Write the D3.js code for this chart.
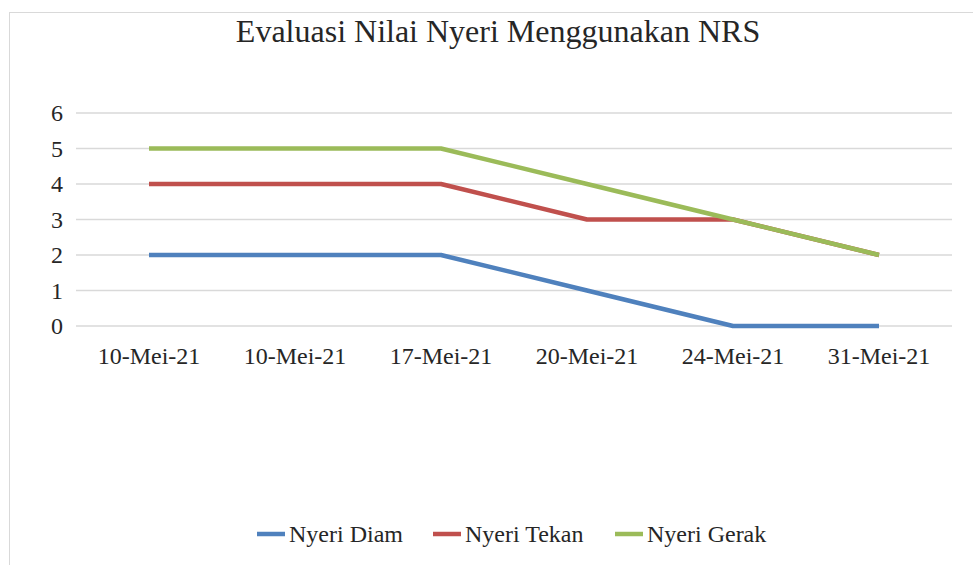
<!DOCTYPE html>
<html>
<head>
<meta charset="utf-8">
<script src="https://cdn.jsdelivr.net/npm/d3@7"></script>
<style>
  body { margin: 0; background: #fff; }
</style>
</head>
<body>
<div id="app"></div>
<script>
const WIDTH = 973;
const HEIGHT = 565;
const FONT = 'Liberation Serif';

const title = 'Evaluasi Nilai Nyeri Menggunakan NRS';
const dates = ['10-Mei-21', '10-Mei-21 ', '17-Mei-21', '20-Mei-21', '24-Mei-21', '31-Mei-21'];
const yTicks = [0, 1, 2, 3, 4, 5, 6];

const nyeriDiam = [2, 2, 2, 1, 0, 0];
const nyeriTekan = [4, 4, 4, 3, 3, 2];
const nyeriGerak = [5, 5, 5, 4, 3, 2];

const seriesNames = ['Nyeri Diam', 'Nyeri Tekan', 'Nyeri Gerak'];
const seriesColors = ['#4f81bd', '#c0504d', '#9bbb59'];

const series = [nyeriDiam, nyeriTekan, nyeriGerak].map((values, i) => ({
  name: seriesNames[i],
  color: seriesColors[i],
  values
}));

const svg = d3.select('#app')
  .append('svg')
  .attr('width', WIDTH)
  .attr('height', HEIGHT);

// chart frame (the outer border of the chart object)
svg.append('rect')
  .attr('x', 9.5)
  .attr('y', 12.5)
  .attr('width', WIDTH)
  .attr('height', HEIGHT)
  .attr('fill', 'none')
  .attr('stroke', '#d9d9d9');

svg.append('text')
  .attr('x', 498)
  .attr('y', 42)
  .attr('text-anchor', 'middle')
  .attr('font-family', FONT)
  .attr('font-size', '32px')
  .attr('fill', '#262626')
  .text(title);

const x = d3.scalePoint()
  .domain(dates)
  .range([76, 952])
  .padding(0.5);

const y = d3.scaleLinear()
  .domain([0, 6])
  .range([326, 113]);

// gridlines
svg.append('g')
  .selectAll('line')
  .data(yTicks)
  .enter()
  .append('line')
  .attr('x1', 76)
  .attr('x2', 952)
  .attr('y1', d => y(d))
  .attr('y2', d => y(d))
  .attr('stroke', '#d9d9d9')
  .attr('stroke-width', 1.5);

// y labels
svg.append('g')
  .selectAll('text')
  .data(yTicks)
  .enter()
  .append('text')
  .attr('x', 63)
  .attr('y', d => y(d))
  .attr('dy', '0.34em')
  .attr('text-anchor', 'end')
  .attr('font-family', FONT)
  .attr('font-size', '24px')
  .attr('fill', '#262626')
  .text(d => d);

// x labels
svg.append('g')
  .selectAll('text')
  .data(dates)
  .enter()
  .append('text')
  .attr('x', d => x(d))
  .attr('y', 364)
  .attr('text-anchor', 'middle')
  .attr('font-family', FONT)
  .attr('font-size', '24px')
  .attr('fill', '#262626')
  .text(d => d.trim());

const line = d3.line()
  .x((d, i) => x(dates[i]))
  .y(d => y(d));

svg.append('g')
  .selectAll('path')
  .data(series)
  .enter()
  .append('path')
  .attr('d', d => line(d.values))
  .attr('fill', 'none')
  .attr('stroke', d => d.color)
  .attr('stroke-width', 4.5)
  .attr('stroke-linejoin', 'round');

// legend
const legendX = [257, 433, 615];
const legend = svg.append('g')
  .selectAll('g')
  .data(series)
  .enter()
  .append('g')
  .attr('transform', (d, i) => `translate(${legendX[i]},534)`);

legend.append('line')
  .attr('x1', 0)
  .attr('x2', 28)
  .attr('stroke', d => d.color)
  .attr('stroke-width', 4.5);

legend.append('text')
  .attr('x', 32)
  .attr('dy', '0.34em')
  .attr('font-family', FONT)
  .attr('font-size', '24px')
  .attr('fill', '#262626')
  .text(d => d.name);
</script>
</body>
</html>
